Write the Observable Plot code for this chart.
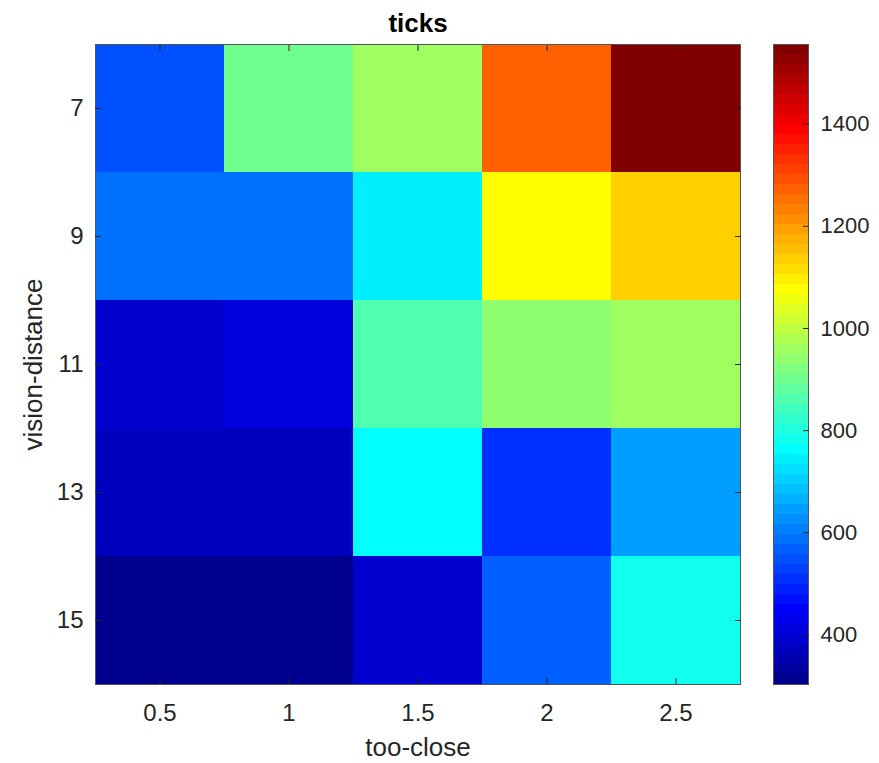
<!DOCTYPE html>
<html>
<head>
<meta charset="utf-8">
<script src="https://cdn.jsdelivr.net/npm/d3@7"></script>
<script src="https://cdn.jsdelivr.net/npm/@observablehq/plot@0.6"></script>
<style>
  html, body { margin: 0; padding: 0; background: #fff; }
  #wrap { position: relative; width: 879px; height: 763px; }
  #wrap svg { position: absolute; left: 0; top: 0; }
</style>
</head>
<body>
<div id="wrap"></div>
<script>
// ---- data ----
const tooClose = [0.5, 1, 1.5, 2, 2.5];
const visionDistance = [7, 9, 11, 13, 15];
const row7  = [548, 900, 960, 1272, 1556];
const row9  = [580, 580, 743, 1076, 1135];
const row11 = [391, 420, 861, 930, 955];
const row13 = [371, 371, 755, 500, 636];
const row15 = [303, 310, 390, 570, 790];
const colorTicks = [400, 600, 800, 1000, 1200, 1400];
const title = "ticks";
const xLabel = "too-close";
const yLabel = "vision-distance";

const rows = [row7, row9, row11, row13, row15];
const cells = [];
rows.forEach((r, yi) => r.forEach((v, xi) => cells.push({x: tooClose[xi], y: visionDistance[yi], v})));
const all = rows.flat();
const cmin = d3.min(all), cmax = d3.max(all);

// MATLAB jet(64)
function jet64(i) {
  const g = i >= 9 && i <= 24 ? (i - 8) / 16 : i >= 25 && i <= 39 ? 1 : i >= 40 && i <= 55 ? (56 - i) / 16 : 0;
  const r = i >= 25 && i <= 40 ? (i - 24) / 16 : i >= 41 && i <= 55 ? 1 : i >= 56 ? (72 - i) / 16 : 0;
  const b = i <= 8 ? (i + 8) / 16 : i <= 23 ? 1 : i <= 39 ? (40 - i) / 16 : 0;
  return d3.rgb(r * 255, g * 255, b * 255).formatHex();
}
const jetT = t => {
  t = Math.max(0, Math.min(1, t));
  return jet64(Math.min(64, Math.floor(t * 64) + 1));
};
const colorScale = {type: "linear", domain: [cmin, cmax], interpolate: jetT, clamp: true};

const bands = d3.range(64).map(k => ({
  y1: cmin + k * (cmax - cmin) / 64,
  y2: cmin + (k + 1) * (cmax - cmin) / 64
}));

const font = "'Liberation Sans', Arial, Helvetica, sans-serif";
const ink = "#262626";

const main = Plot.plot({
  width: 879, height: 763,
  marginLeft: 95, marginRight: 139, marginTop: 44, marginBottom: 79,
  style: {fontFamily: font, fontSize: "24px", color: ink, background: "transparent", overflow: "visible"},
  x: {type: "band", domain: tooClose, padding: 0},
  y: {type: "band", domain: visionDistance, padding: 0},
  color: colorScale,
  marks: [
    Plot.cell(cells, {x: "x", y: "y", fill: "v", inset: 0}),
    Plot.frame({stroke: "#555", strokeWidth: 1}),
    Plot.axisX({anchor: "bottom", tickSize: -6, tickPadding: 25, stroke: ink, fill: ink, label: null, fontSize: 24}),
    Plot.axisX({anchor: "top", tickSize: -6, tickFormat: () => "", stroke: ink, label: null}),
    Plot.axisY({anchor: "left", tickSize: -6, tickPadding: 18, stroke: ink, fill: ink, label: null, fontSize: 24}),
    Plot.axisY({anchor: "right", tickSize: -6, tickFormat: () => "", stroke: ink, label: null}),
    Plot.text([title], {frameAnchor: "top", lineAnchor: "middle", textAnchor: "middle", dy: -21, fontWeight: "bold", fontSize: 26, fill: "#000"}),
    Plot.text([xLabel], {frameAnchor: "bottom", lineAnchor: "middle", textAnchor: "middle", dy: 63, fontSize: 26, fill: ink}),
    Plot.text([yLabel], {frameAnchor: "left", lineAnchor: "middle", textAnchor: "middle", dx: -62, rotate: -90, fontSize: 26, fill: ink})
  ]
});

const bar = Plot.plot({
  width: 879, height: 763,
  marginLeft: 773, marginRight: 71, marginTop: 44, marginBottom: 79,
  style: {fontFamily: font, fontSize: "24px", color: ink, background: "transparent"},
  y: {type: "linear", domain: [cmin, cmax]},
  color: colorScale,
  marks: [
    Plot.rect(bands, {y1: "y1", y2: "y2", fill: d => (d.y1 + d.y2) / 2}),
    Plot.frame({stroke: "#555", strokeWidth: 1}),
    Plot.axisY({anchor: "right", ticks: colorTicks, tickFormat: d3.format("d"), tickSize: -6, tickPadding: 18, stroke: ink, fill: ink, label: null, fontSize: 22})
  ]
});

document.getElementById("wrap").append(main, bar);
</script>
</body>
</html>
